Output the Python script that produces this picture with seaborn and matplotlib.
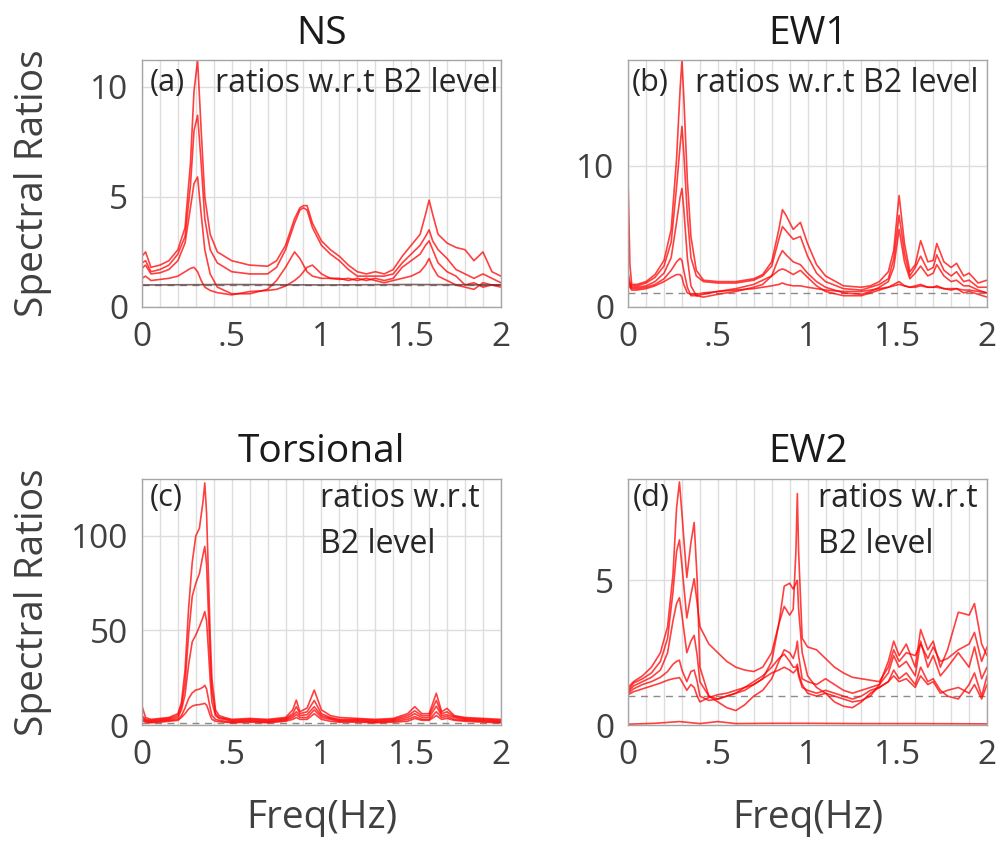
import matplotlib
matplotlib.use("Agg")
import matplotlib.pyplot as plt
import matplotlib.ticker as ticker
import numpy as np
import pandas as pd
import seaborn as sns

# ---- NS panel (a) ----
ns_freq = [0, .02, .05, .1, .15, .2, .24, .27, .29, .31, .33, .35, .38, .42, .5, .6, .7, .75, .8, .85,
           .88, .9, .92, .95, 1.0, 1.05, 1.1, 1.15, 1.2, 1.25, 1.3, 1.35, 1.4, 1.45, 1.5, 1.55, 1.58,
           1.6, 1.62, 1.65, 1.7, 1.75, 1.8, 1.85, 1.9, 1.95, 2.0]
ns_1 = [2.3, 2.5, 1.8, 1.9, 2.1, 2.6, 3.6, 6.5, 9.8, 11.2, 8.0, 5.0, 3.3, 2.5, 2.1, 1.9, 1.85, 2.1, 2.8, 4.0,
        4.5, 4.6, 4.6, 3.8, 3.0, 2.6, 2.3, 1.9, 1.6, 1.5, 1.6, 1.5, 1.7, 2.3, 2.8, 3.3, 4.2,
        4.85, 4.2, 3.3, 2.9, 2.7, 2.6, 2.1, 2.5, 1.6, 1.4]
ns_2 = [2.0, 2.1, 1.6, 1.7, 1.9, 2.4, 3.2, 5.5, 8.0, 8.7, 6.5, 4.0, 2.6, 2.0, 1.6, 1.5, 1.5, 1.8, 2.6, 3.8,
        4.4, 4.5, 4.4, 3.6, 2.8, 2.4, 2.1, 1.7, 1.4, 1.4, 1.4, 1.4, 1.5, 2.0, 2.4, 2.8, 3.2,
        3.5, 3.0, 2.6, 2.2, 1.7, 1.5, 1.3, 1.5, 1.3, 1.1]
ns_3 = [1.75, 1.9, 1.5, 1.55, 1.7, 2.1, 2.9, 4.5, 5.6, 5.9, 4.2, 2.6, 1.5, 0.9, 0.6, 0.6, 0.8, 1.2, 1.8, 2.5,
        2.2, 1.9, 1.6, 1.4, 1.3, 1.3, 1.3, 1.2, 1.3, 1.2, 1.3, 1.2, 1.3, 1.8, 2.1, 2.4, 2.8,
        3.0, 2.6, 2.0, 1.6, 1.4, 1.0, 1.1, 0.9, 1.0, 1.0]
ns_4 = [1.3, 1.4, 1.2, 1.25, 1.3, 1.4, 1.6, 1.75, 1.8, 1.6, 1.2, 0.9, 0.75, 0.65, 0.55, 0.7, 0.75, 0.8, 0.95, 1.2,
        1.4, 1.6, 1.8, 1.9, 1.5, 1.3, 1.25, 1.3, 1.2, 1.3, 1.2, 1.1, 1.2, 1.3, 1.4, 1.6, 1.9,
        2.2, 1.8, 1.4, 1.2, 1.0, 0.9, 0.8, 1.1, 1.0, 0.9]
ns_flat_freq = [0, 0.5, 1.0, 1.5, 2.0]
ns_flat = [1.0, 1.02, 1.0, 1.02, 1.0]

# ---- EW1 panel (b) ----
ew1_freq = [0, .01, .02, .05, .1, .15, .2, .24, .27, .29, .3, .31, .33, .35, .38, .42, .5, .6, .7, .75,
            .8, .84, .86, .88, .92, .96, 1.0, 1.05, 1.1, 1.2, 1.3, 1.35, 1.4, 1.45, 1.48, 1.51, 1.54,
            1.57, 1.6, 1.63, 1.67, 1.7, 1.72, 1.76, 1.8, 1.83, 1.87, 1.9, 1.95, 2.0]
ew1_1 = [8.8, 3.0, 1.6, 1.6, 1.8, 2.3, 3.3, 5.5, 10.5, 15.5, 17.5, 15.0, 9.0, 5.0, 2.6, 1.9, 1.8, 1.8, 2.0, 2.3,
         3.2, 5.5, 6.9, 6.5, 5.5, 6.0, 4.5, 3.0, 2.2, 1.5, 1.4, 1.5, 1.8, 2.5, 4.0, 7.9, 4.5,
         2.5, 3.0, 4.7, 3.2, 3.3, 4.5, 3.2, 2.8, 3.1, 2.2, 2.4, 1.7, 1.9]
ew1_2 = [2.4, 1.8, 1.5, 1.5, 1.7, 2.1, 2.9, 4.6, 8.5, 11.5, 12.8, 11.0, 6.5, 3.5, 2.2, 1.8, 1.7, 1.7, 1.9, 2.2,
         2.9, 4.8, 5.7, 5.4, 4.8, 5.0, 3.6, 2.4, 1.8, 1.3, 1.2, 1.4, 1.6, 2.0, 3.4, 6.5, 3.8,
         2.2, 2.8, 3.6, 2.6, 2.8, 3.7, 2.6, 2.2, 2.5, 1.8, 1.9, 1.4, 1.4]
ew1_3 = [2.0, 1.6, 1.4, 1.4, 1.5, 1.8, 2.4, 3.5, 6.0, 7.8, 8.4, 7.0, 3.5, 1.5, 0.8, 0.7, 0.9, 1.1, 1.4, 1.6,
         2.2, 3.5, 4.0, 3.7, 3.2, 3.0, 2.4, 1.8, 1.4, 1.0, 0.9, 1.1, 1.4, 1.8, 2.8, 5.5, 3.2,
         2.0, 2.4, 2.9, 2.2, 2.4, 3.0, 2.2, 1.8, 1.9, 1.5, 1.5, 1.2, 1.0]
ew1_4 = [1.8, 1.5, 1.3, 1.3, 1.4, 1.6, 2.0, 2.6, 3.2, 3.45, 3.3, 2.6, 1.4, 0.8, 0.8, 0.9, 1.1, 1.3, 1.6, 1.9,
         2.2, 2.6, 2.7, 2.6, 2.3, 2.6, 2.1, 1.5, 1.1, 0.8, 0.8, 1.0, 1.2, 1.4, 1.6, 1.8, 1.5,
         1.4, 1.5, 1.6, 1.4, 1.4, 1.5, 1.3, 1.2, 1.3, 1.0, 1.1, 0.9, 0.7]
ew1_5 = [1.6, 1.4, 1.2, 1.2, 1.3, 1.5, 1.8, 2.1, 2.3, 2.3, 2.1, 1.6, 1.0, 0.9, 0.9, 1.0, 1.1, 1.2, 1.3, 1.4,
         1.5, 1.6, 1.7, 1.6, 1.5, 1.5, 1.4, 1.3, 1.2, 1.1, 1.1, 1.2, 1.3, 1.4, 1.5, 1.6, 1.5,
         1.4, 1.4, 1.5, 1.4, 1.4, 1.4, 1.3, 1.3, 1.3, 1.2, 1.2, 1.1, 1.0]

# ---- Torsional panel (c) ----
tor_freq = [0, .02, .05, .1, .15, .2, .22, .24, .26, .28, .30, .32, .34, .35, .36, .37, .38, .39, .41, .43,
            .46, .5, .6, .7, .8, .84, .86, .88, .92, .96, 1.0, 1.05, 1.1, 1.2, 1.3, 1.4, 1.48, 1.52,
            1.56, 1.6, 1.64, 1.67, 1.7, 1.74, 1.8, 1.9, 2.0]
tor_1 = [10, 4, 3, 3.5, 4, 6, 12, 29, 62, 86, 100, 104, 118, 128, 112, 80, 48, 24, 8, 5,
         4, 3, 3.5, 3, 4, 8, 13.2, 7, 9, 18.5, 8, 5, 4, 3.5, 3, 3.5, 6, 9.7,
         6, 6, 16.8, 7, 8.8, 5, 4, 3.5, 3]
tor_2 = [5, 3, 2.5, 3, 3.5, 5, 10, 22, 48, 68, 75, 80, 90, 94.4, 85, 60, 36, 18, 6, 4,
         3.5, 2.5, 3, 2.5, 3.5, 6, 9.7, 6, 7, 13, 6, 4, 3, 3, 2.5, 3, 5, 7.5,
         5, 5, 13, 6, 7, 4.5, 3.5, 3, 2.5]
tor_3 = [4, 2.5, 2, 2.5, 3, 4, 8, 16, 32, 44, 47.6, 52, 57, 60, 55, 40, 24, 12, 5, 3.5,
         3, 2, 2.5, 2, 3, 5, 7, 5, 5.5, 9.7, 5, 3.5, 2.5, 2.5, 2, 2.5, 4, 6,
         4, 4, 10, 5, 5.5, 4, 3, 2.5, 2]
tor_4 = [3, 2, 1.5, 2, 2.5, 3, 5, 9, 14, 17, 18.5, 19, 20, 21, 19, 14, 9, 5, 3, 2.5,
         2, 1.5, 2, 1.5, 2.5, 4, 5.5, 4, 4, 8, 4, 3, 2, 2, 1.5, 2, 3, 4.5,
         3, 3, 7, 4, 4.5, 3, 2.5, 2, 1.5]
tor_5 = [2.5, 1.5, 1.2, 1.5, 2, 2.5, 4, 6, 8.5, 10, 10.6, 10.8, 11.2, 11.5, 10.5, 8, 5, 3, 2, 1.8,
         1.5, 1.2, 1.5, 1.2, 2, 3, 4, 3, 3, 6, 3, 2, 1.5, 1.5, 1.2, 1.5, 2, 3.5,
         2.5, 2.5, 5, 3, 3.5, 2.5, 2, 1.5, 1.2]

# ---- EW2 panel (d) ----
ew2_freq = [0, .03, .08, .13, .18, .22, .25, .27, .286, .3, .327, .35, .368, .385, .4, .45, .5, .55, .6, .65,
            .7, .75, .8, .84, .87, .9, .92, .935, .943, .95, .97, 1.0, 1.05, 1.1, 1.15, 1.2, 1.25, 1.3,
            1.35, 1.4, 1.45, 1.48, 1.51, 1.55, 1.6, 1.63, 1.67, 1.7, 1.74, 1.78, 1.84, 1.9, 1.93, 1.97, 2.0]
ew2_1 = [1.3, 1.5, 1.7, 2.0, 2.5, 3.4, 5.2, 7.5, 8.4, 7.3, 5.1, 6.3, 7.0, 5.0, 2.0, 1.0, 0.9, 1.0, 1.1, 1.2,
         1.4, 1.6, 2.2, 3.5, 4.8, 4.9, 4.7, 4.9, 5.0, 4.0, 2.5, 1.7, 1.3, 1.1, 1.0, 0.9, 0.8, 0.85,
         1.0, 1.4, 2.2, 2.9, 2.4, 2.8, 2.0, 3.3, 2.6, 2.9, 2.0, 2.6, 3.9, 3.8, 4.2, 2.8, 2.4]
ew2_2 = [1.2, 1.45, 1.6, 1.8, 2.2, 3.0, 4.6, 6.0, 6.4, 5.5, 3.7, 4.5, 5.06, 4.2, 3.4, 2.8, 2.5, 2.2, 2.0, 1.9,
         1.85, 2.0, 2.5, 3.5, 4.1, 3.8, 4.0, 6.0, 8.0, 6.0, 3.0, 2.7, 2.6, 2.3, 2.0, 1.8, 1.65, 1.6,
         1.55, 1.5, 2.0, 2.6, 2.2, 2.5, 2.4, 2.8, 2.3, 2.7, 2.2, 2.3, 2.6, 2.8, 3.2, 2.2, 2.7]
ew2_3 = [1.15, 1.35, 1.5, 1.65, 1.9, 2.5, 3.6, 4.2, 4.4, 3.8, 2.5, 2.9, 3.1, 2.4, 1.5, 1.0, 0.8, 0.6, 0.5, 0.7,
         1.0, 1.2, 1.6, 2.2, 2.6, 2.5, 2.3, 2.6, 2.9, 2.4, 1.6, 1.5, 1.4, 1.6, 1.4, 1.2, 1.1, 1.2,
         1.3, 1.4, 1.8, 2.4, 2.0, 2.2, 1.7, 2.9, 2.0, 2.4, 1.7, 2.0, 2.5, 2.0, 2.7, 1.6, 2.0]
ew2_4 = [1.1, 1.25, 1.4, 1.5, 1.65, 1.85, 2.1, 2.2, 2.24, 1.9, 1.5, 1.85, 1.9, 1.5, 1.0, 0.85, 0.9, 1.0, 1.1, 1.3,
         1.5, 1.7, 2.0, 2.3, 2.45, 2.2, 2.0, 2.0, 2.1, 1.8, 1.4, 1.1, 1.0, 1.1, 0.8, 0.65, 0.6, 0.8,
         1.1, 1.3, 1.5, 1.9, 1.6, 1.8, 1.4, 2.0, 1.5, 1.6, 1.2, 1.0, 0.9, 1.4, 1.8, 1.0, 1.7]
ew2_5 = [1.05, 1.15, 1.25, 1.35, 1.45, 1.55, 1.6, 1.62, 1.64, 1.5, 1.2, 1.4, 1.3, 1.0, 0.8, 0.95, 1.05, 1.1, 1.2, 1.3,
         1.4, 1.6, 1.8, 1.9, 2.0, 1.9, 1.8, 1.9, 2.0, 1.7, 1.3, 1.2, 1.1, 1.2, 1.1, 1.0, 0.9, 1.0,
         1.2, 1.3, 1.5, 1.7, 1.5, 1.6, 1.3, 1.7, 1.4, 1.5, 1.1, 1.2, 1.3, 1.1, 1.4, 0.9, 1.4]
ew2_low_freq = [0, 0.15, 0.286, 0.4, 0.5, 0.6, 0.8, 1.0, 1.3, 1.6, 2.0]
ew2_low = [0.03, 0.06, 0.12, 0.05, 0.12, 0.05, 0.06, 0.06, 0.05, 0.05, 0.04]

panel_titles = ["NS", "EW1", "Torsional", "EW2"]
panel_tags = ["(a)", "(b)", "(c)", "(d)"]
panel_ylims = [11.2, 17.5, 130, 8.5]
panel_yticks = [[0, 5, 10], [0, 10], [0, 50, 100], [0, 5]]
xtick_vals = [0, 0.5, 1, 1.5, 2]
xtick_labels = ["0", ".5", "1", "1.5", "2"]


def long_form(freq, curves):
    rows = []
    for k, vals in enumerate(curves):
        rows.append(pd.DataFrame({"freq": freq, "ratio": vals, "curve": k}))
    return pd.concat(rows, ignore_index=True)


# (freq, curves, colour) per panel; the flat NS ratio looks dark in the original
panels = [
    [(ns_freq, [ns_1, ns_2, ns_3, ns_4], "#ff0000"), (ns_flat_freq, [ns_flat], "#5a3434")],
    [(ew1_freq, [ew1_1, ew1_2, ew1_3, ew1_4, ew1_5], "#ff0000")],
    [(tor_freq, [tor_1, tor_2, tor_3, tor_4, tor_5], "#ff0000")],
    [(ew2_freq, [ew2_1, ew2_2, ew2_3, ew2_4, ew2_5], "#ff0000"), (ew2_low_freq, [ew2_low], "#ff0000")],
]

sns.set_style("white")
plt.rcParams["font.family"] = ["Open Sans", "DejaVu Sans"]

fig = plt.figure(figsize=(9.97, 8.48), dpi=100)
rects = [[0.1424, 0.638, 0.360, 0.291], [0.630, 0.638, 0.360, 0.291],
         [0.1424, 0.145, 0.360, 0.290], [0.630, 0.145, 0.360, 0.290]]

text_gray = "#404040"
ann = "#262626"
for i, rect in enumerate(rects):
    ax = fig.add_axes(rect)
    for freq, curves, col in panels[i]:
        df = long_form(freq, curves)
        sns.lineplot(data=df, x="freq", y="ratio", units="curve", estimator=None,
                     color=col, alpha=0.75, linewidth=1.2, sort=False, ax=ax, legend=False)
    ax.axhline(1, color="#8c8c8c", linestyle=(0, (5, 4)), linewidth=1, zorder=1)

    ax.set_xlim(0, 2)
    ax.set_ylim(0, panel_ylims[i])
    ax.set_xticks(xtick_vals)
    ax.set_xticklabels(xtick_labels)
    ax.set_yticks(panel_yticks[i])
    ax.xaxis.set_minor_locator(ticker.MultipleLocator(0.1))
    ax.grid(True, which="major", axis="y", color="#dddddd", linewidth=1)
    ax.grid(True, which="both", axis="x", color="#dddddd", linewidth=1)
    ax.set_axisbelow(True)
    ax.tick_params(axis="both", which="both", direction="in", labelsize=24,
                   labelcolor=text_gray, color="#a0a0a0", pad=10)
    ax.tick_params(axis="both", which="major", length=5)
    ax.tick_params(axis="x", which="minor", length=3)
    for sp in ax.spines.values():
        sp.set_color("#a6a6a6")
        sp.set_linewidth(1)

    ax.set_title(panel_titles[i], fontsize=28, color="#1a1a1a", pad=12)
    if i % 2 == 0:
        ax.set_ylabel("Spectral Ratios", fontsize=28, color=text_gray)
        ax.yaxis.set_label_coords(-0.25, 0.5)
    else:
        ax.set_ylabel("")
    if i >= 2:
        ax.set_xlabel("Freq(Hz)", fontsize=28, color=text_gray)
        ax.xaxis.set_label_coords(0.5, -0.30)
    else:
        ax.set_xlabel("")

    if i < 2:
        ax.text(0.022 if i == 0 else 0.011, 0.907, panel_tags[i], transform=ax.transAxes,
                fontsize=22, color=ann, va="center", ha="left")
        ax.text(0.203 if i == 0 else 0.187, 0.907, "ratios w.r.t B2 level", transform=ax.transAxes,
                fontsize=23, color=ann, va="center", ha="left")
    else:
        ax.text(0.022 if i == 2 else 0.013, 0.923, panel_tags[i], transform=ax.transAxes,
                fontsize=22, color=ann, va="center", ha="left")
        x0 = 0.496 if i == 2 else 0.529
        ax.text(x0, 0.923, "ratios w.r.t", transform=ax.transAxes,
                fontsize=23, color=ann, va="center", ha="left")
        ax.text(x0, 0.735, "B2 level", transform=ax.transAxes,
                fontsize=23, color=ann, va="center", ha="left")

fig.savefig("out.png", dpi=100)
